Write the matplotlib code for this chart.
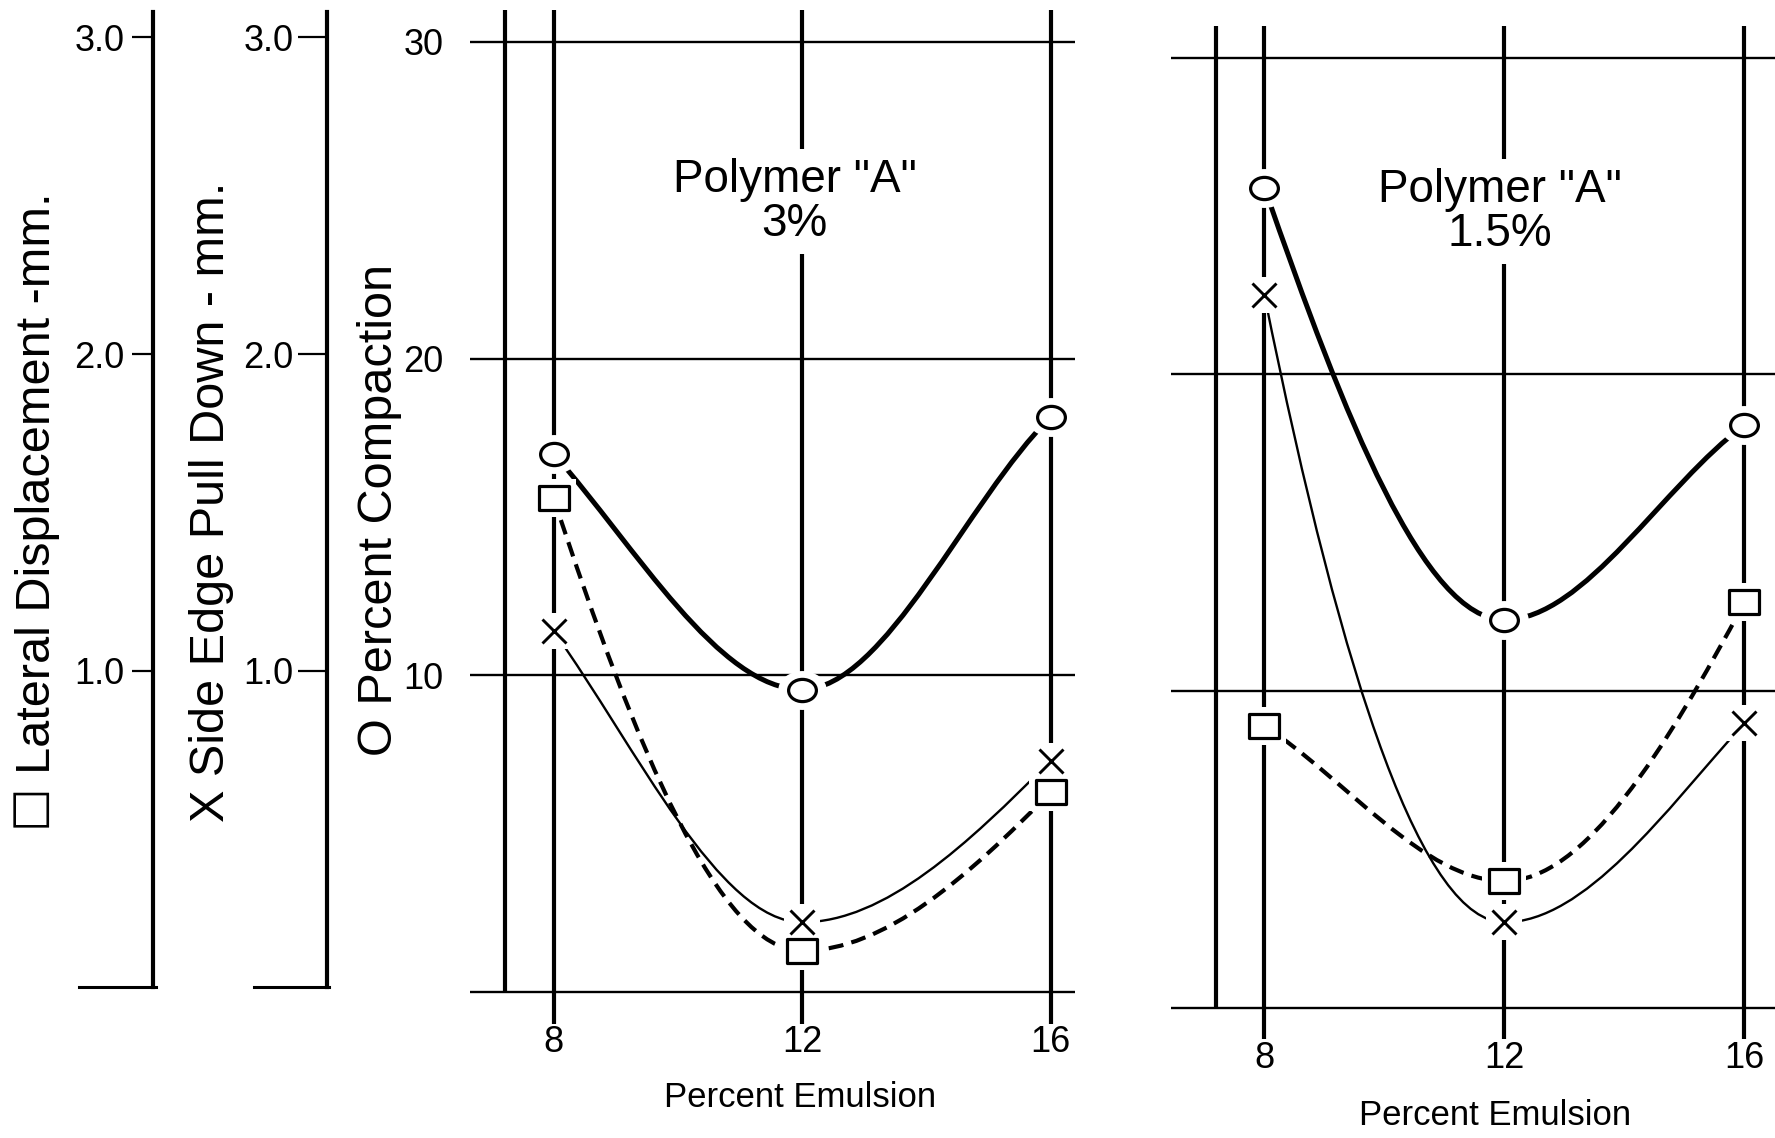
import numpy as np
import matplotlib
matplotlib.use("Agg")
import matplotlib.pyplot as plt
from matplotlib.path import Path
from matplotlib.patches import PathPatch
from matplotlib.transforms import Affine2D

# ---------------- data ----------------
emulsion = [8, 12, 16]
emulsion_labels = ["8", "12", "16"]
mm_ticks = [1, 2, 3]
mm_tick_labels = ["1.0", "2.0", "3.0"]
comp_ticks = [0, 10, 20, 30]
comp_tick_labels = ["", "10", "20", "30"]

# Polymer "A" 3%
compaction_3 = [17.0, 9.55, 18.15]      # O  Percent Compaction
pulldown_3 = [1.14, 0.22, 0.73]         # X  Side Edge Pull Down - mm
lateral_3 = [1.56, 0.13, 0.63]          # [] Lateral Displacement - mm

# Polymer "A" 1.5%
compaction_15 = [25.9, 12.25, 18.4]
pulldown_15 = [2.25, 0.27, 0.90]
lateral_15 = [0.89, 0.40, 1.28]

title_3 = 'Polymer "A"\n3%'
title_15 = 'Polymer "A"\n1.5%'
xlabel = "Percent Emulsion"
lab_lat = "\u2610 Lateral Displacement -mm."
lab_pull = "X Side Edge Pull Down - mm."
lab_comp = "O Percent Compaction"

# curve end-tangent styling (hand drawn French-curve look): (start, end)
bend_3 = {"comp": (1.2, 0.9), "pull": (1.2, 1.55), "lat": (1.67, 1.6)}
bend_15 = {"comp": (1.6, 0.9), "pull": (1.9, 1.35), "lat": (1.0, 1.6)}

# ---------------- layout helpers (reference grid 1568 x 1005) ----------------
W, H = 1568.0, 1005.0
FONT = ["Liberation Sans", "DejaVu Sans"]
plt.rcParams["font.family"] = FONT


def fx(x):
    return x / W


def fy(y):
    return 1 - y / H


fig = plt.figure(figsize=(17.75, 11.38), dpi=100)
fig.patch.set_facecolor("white")


def add_panel(x8, x16, y0, y30, xlim, ylim):
    sx = (x16 - x8) / 8.0
    sy = (y0 - y30) / 30.0
    left = x8 + (xlim[0] - 8) * sx
    right = x8 + (xlim[1] - 8) * sx
    bottom = y0 - ylim[0] * sy
    top = y0 - ylim[1] * sy
    ax = fig.add_axes([fx(left), fy(bottom), fx(right) - fx(left), fy(top) - fy(bottom)])
    ax.set_xlim(*xlim)
    ax.set_ylim(*ylim)
    return ax


def smooth_path(xs, ys, bend):
    xs = np.asarray(xs, float)
    ys = np.asarray(ys, float)
    h = np.diff(xs)
    sec = np.diff(ys) / h
    d = np.zeros_like(ys)
    for i in range(1, len(xs) - 1):
        if sec[i - 1] * sec[i] > 0:
            d[i] = 2.0 / (1.0 / sec[i - 1] + 1.0 / sec[i])
    d[0] = bend[0] * sec[0]
    d[-1] = bend[1] * sec[-1]
    verts = [(xs[0], ys[0])]
    codes = [Path.MOVETO]
    for i in range(len(xs) - 1):
        verts += [(xs[i] + h[i] / 3, ys[i] + d[i] * h[i] / 3),
                  (xs[i + 1] - h[i] / 3, ys[i + 1] - d[i + 1] * h[i] / 3),
                  (xs[i + 1], ys[i + 1])]
        codes += [Path.CURVE4] * 3
    return Path(verts, codes)


ellipse_m = Affine2D().scale(1.0, 0.8).transform_path(Path.unit_circle())
rect_m = Path([(-1, -0.85), (1, -0.85), (1, 0.85), (-1, 0.85), (-1, -0.85)],
              [Path.MOVETO, Path.LINETO, Path.LINETO, Path.LINETO, Path.CLOSEPOLY])


def draw_panel(ax, comp, pull, lat, bend, title, title_xy, yaxis_x, show_ylabels):
    for s in ax.spines.values():
        s.set_visible(False)
    ax.set_axisbelow(True)
    ax.set_xticks(emulsion)
    ax.set_xticklabels(emulsion_labels)
    ax.set_yticks(comp_ticks)
    if show_ylabels:
        ax.set_yticklabels(comp_tick_labels)
    else:
        ax.set_yticklabels([])
    ax.tick_params(axis="x", length=0, pad=1, labelsize=26)
    ax.tick_params(axis="y", length=0, pad=19, labelsize=26)
    ax.grid(axis="x", color="black", lw=3.0)
    ax.grid(axis="y", color="black", lw=1.7)
    ax.vlines(yaxis_x, 0, ax.get_ylim()[1], color="black", lw=3.0, zorder=1)

    axm = ax.twinx()
    axm.set_ylim(ax.get_ylim()[0] / 10.0, ax.get_ylim()[1] / 10.0)
    axm.axis("off")

    # curves
    ax.add_patch(PathPatch(smooth_path(emulsion, comp, bend["comp"]), fill=False,
                           lw=3.6, color="black", capstyle="round", zorder=2))
    axm.add_patch(PathPatch(smooth_path(emulsion, pull, bend["pull"]), fill=False,
                            lw=1.7, color="black", zorder=2))
    axm.add_patch(PathPatch(smooth_path(emulsion, lat, bend["lat"]), fill=False,
                            lw=3.0, color="black", linestyle=(0, (3.6, 2.0)), zorder=2))

    # white halos that break the lines around each symbol
    ax.plot(emulsion, comp, ls="none", marker=ellipse_m, ms=35, mfc="white",
            mec="white", mew=0, zorder=3)
    axm.plot(emulsion, pull, ls="none", marker="s", ms=26, mfc="white",
             mec="white", mew=0, zorder=3)
    axm.plot(emulsion, lat, ls="none", marker=rect_m, ms=32, mfc="white",
             mec="white", mew=0, zorder=3)

    # symbols
    ax.plot(emulsion, comp, ls="none", marker=ellipse_m, ms=20, mfc="white",
            mec="black", mew=2.3, zorder=4)
    axm.plot(emulsion, pull, ls="none", marker="x", ms=17, mec="black",
             mew=2.1, zorder=4)
    axm.plot(emulsion, lat, ls="none", marker=rect_m, ms=21, mfc="white",
             mec="black", mew=2.3, zorder=4)

    fig.text(fx(title_xy[0]), fy(title_xy[1]), title, ha="center", va="center",
             fontsize=33, linespacing=1.0, zorder=6,
             bbox=dict(facecolor="white", edgecolor="none", pad=6))
    return axm


# ---------------- scale axes on the left ----------------
def scale_axis(x_left, x_spine, y0, y3, tick_len, pad):
    s = (y0 - y3) / 3.0
    bottom = y0 + 0.1 * s
    top = y3 - 0.1 * s
    ax = fig.add_axes([fx(x_left), fy(bottom), fx(x_spine) - fx(x_left), fy(top) - fy(bottom)])
    ax.set_xlim(0, 1)
    ax.set_ylim(-0.1, 3.1)
    ax.patch.set_visible(False)
    for k in ("top", "bottom", "right"):
        ax.spines[k].set_visible(False)
    ax.spines["left"].set_position(("axes", 1.0))
    ax.spines["left"].set_bounds(0, 3.08)
    ax.spines["left"].set_linewidth(3.0)
    ax.set_xticks([])
    ax.set_yticks(mm_ticks)
    ax.set_yticklabels(mm_tick_labels)
    ax.tick_params(axis="y", length=tick_len, width=1.6, pad=pad, labelsize=26)
    ax.plot([0, 1.03], [0, 0], color="black", lw=2.2, clip_on=False)
    return ax


scale_axis(70, 135.5, 872, 33, 15, 6)
scale_axis(224, 289, 872, 33, 21, 3)

fig.text(fx(33), fy(452), lab_lat, rotation=90, ha="center", va="center", fontsize=35)
fig.text(fx(187), fy(443), lab_pull, rotation=90, ha="center", va="center", fontsize=35)
fig.text(fx(335), fy(450), lab_comp, rotation=90, ha="center", va="center", fontsize=35)

# ---------------- panels ----------------
axL = add_panel(489, 928, 876, 37, (6.65, 16.40), (-1.0, 31.0))
draw_panel(axL, compaction_3, pulldown_3, lateral_3, bend_3, title_3, (702, 178), 7.22, True)

axR = add_panel(1117, 1541, 890, 51, (6.45, 16.51), (-1.0, 31.0))
draw_panel(axR, compaction_15, pulldown_15, lateral_15, bend_15, title_15, (1325, 187), 7.19, False)

fig.text(fx(707), fy(969), xlabel, ha="center", va="center", fontsize=25)
fig.text(fx(1321), fy(985), xlabel, ha="center", va="center", fontsize=25)

fig.savefig("out.png", dpi=100, facecolor="white")
